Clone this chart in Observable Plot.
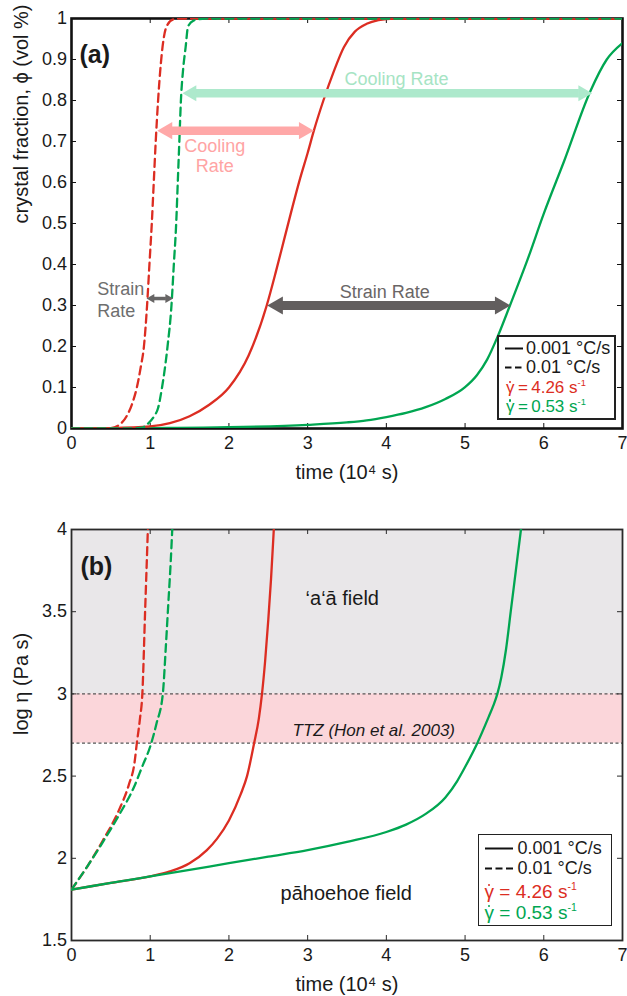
<!DOCTYPE html>
<html>
<head>
<meta charset="utf-8">
<script src="https://cdn.jsdelivr.net/npm/d3@7"></script>
<script src="https://cdn.jsdelivr.net/npm/@observablehq/plot@0.6"></script>
<style>
  body { margin: 0; background: #fff; }
  #chart { position: relative; width: 627px; height: 996px; font-family: "Liberation Sans", Arial, Helvetica, sans-serif; color: #1a1a1a; }
  #chart svg { display: block; }
  .legend { position: absolute; background: #fff; box-sizing: border-box; }
  .legend .row { position: absolute; white-space: nowrap; line-height: 1; }
  .legend sup { font-size: 0.55em; vertical-align: 0.75em; line-height: 0; }
  .gdot { position: relative; display: inline-block; }
  .gdot::after { content: ""; position: absolute; left: 50%; top: 0.1em; width: 2.4px; height: 2.4px;
    margin-left: -1.2px; border-radius: 50%; background: currentColor; }
</style>
</head>
<body>
<div id="chart">
  <div id="panelA"></div>
  <div id="panelB"></div>
</div>
<script>
// ---------- axes ----------
const timeTicks = [0, 1, 2, 3, 4, 5, 6, 7];
const phiTicks = [0, 0.1, 0.2, 0.3, 0.4, 0.5, 0.6, 0.7, 0.8, 0.9, 1];
const logEtaTicks = [1.5, 2, 2.5, 3, 3.5, 4];
const timeDomain = [0, 7];
const phiDomain = [0, 1];
const logEtaDomain = [1.5, 4];

// ---------- (a) crystal fraction φ vs time (10^4 s) ----------
// 0.001 °C/s, γ̇ = 4.26 s^-1
const phiSlowHigh = [[0,0],[0.5,0.001],[1,0.005],[1.25,0.013],[1.5,0.03],[1.75,0.058],[2,0.1],[2.25,0.178],[2.48,0.3],[2.6,0.385],[2.7,0.46],[2.8,0.535],[2.9,0.607],[3,0.672],[3.08,0.727],[3.2,0.8],[3.33,0.87],[3.46,0.93],[3.6,0.968],[3.75,0.987],[3.9,0.996],[4.1,1],[7,1]];
// 0.001 °C/s, γ̇ = 0.53 s^-1
const phiSlowLow = [[0,0],[1,0.001],[2,0.003],[3,0.009],[3.5,0.015],[3.75,0.02],[4,0.028],[4.25,0.038],[4.5,0.052],[4.75,0.072],[5,0.101],[5.15,0.13],[5.28,0.168],[5.42,0.227],[5.57,0.3],[5.79,0.41],[6,0.524],[6.26,0.653],[6.59,0.822],[6.8,0.9],[7,0.94]];
// 0.01 °C/s, γ̇ = 4.26 s^-1
const phiFastHigh = [[0,0],[0.5,0.001],[0.6,0.008],[0.7,0.03],[0.77,0.06],[0.83,0.1],[0.88,0.15],[0.92,0.2],[0.96,0.3],[0.99,0.4],[1.02,0.5],[1.045,0.6],[1.07,0.7],[1.1,0.8],[1.135,0.89],[1.17,0.95],[1.22,0.985],[1.3,0.998],[1.4,1],[7,1]];
// 0.01 °C/s, γ̇ = 0.53 s^-1
const phiFastLow = [[0,0],[0.8,0.0005],[0.9,0.002],[0.96,0.01],[1.05,0.03],[1.1,0.05],[1.15,0.1],[1.22,0.2],[1.27,0.3],[1.3,0.4],[1.33,0.5],[1.35,0.6],[1.37,0.7],[1.39,0.8],[1.42,0.88],[1.45,0.93],[1.48,0.98],[1.55,0.995],[1.7,1],[7,1]];

// double-headed arrows (time from → to, at crystal fraction)
const coolingArrowLow = [{x1: 1.41, x2: 6.615, y: 0.8175}];
const coolingArrowHigh = [{x1: 1.089, x2: 3.08, y: 0.7265}];
const strainArrowSlow = [{x1: 2.487, x2: 5.578, y: 0.30}];
const strainArrowFast = [{x1: 0.953, x2: 1.292, y: 0.317}];

const notesA = [
  {t: 4.13, v: 0.853, text: "Cooling Rate", kind: "coolLow"},
  {t: 1.82, v: 0.666, text: "Cooling\nRate", kind: "coolHigh"},
  {t: 3.98, v: 0.333, text: "Strain Rate", kind: "strainSlow"},
  {t: 0.326, v: 0.315, text: "Strain\nRate", kind: "strainFast"}
];

// ---------- (b) log viscosity vs time (10^4 s) ----------
const etaSlowHigh = [[0,1.81],[0.5,1.85],[1,1.89],[1.25,1.92],[1.5,1.97],[1.72,2.05],[1.85,2.12],[2,2.23],[2.15,2.39],[2.23,2.5],[2.32,2.7],[2.38,2.85],[2.42,3.0],[2.46,3.2],[2.5,3.45],[2.535,3.7],[2.57,4.0],[2.61,4.35]];
const etaSlowLow = [[0,1.81],[0.5,1.85],[1,1.89],[1.5,1.93],[2,1.97],[2.5,2.01],[3,2.05],[3.5,2.1],[4,2.16],[4.25,2.205],[4.5,2.27],[4.75,2.37],[4.9,2.47],[5,2.555],[5.155,2.7],[5.3,2.86],[5.36,2.93],[5.41,3.0],[5.46,3.1],[5.52,3.27],[5.58,3.5],[5.645,3.75],[5.71,4.0],[5.78,4.28]];
const etaFastHigh = [[0,1.81],[0.2,1.95],[0.4,2.11],[0.6,2.29],[0.73,2.45],[0.8,2.58],[0.83,2.7],[0.87,2.85],[0.9,3.0],[0.935,3.5],[0.97,4.0],[0.99,4.3]];
const etaFastLow = [[0,1.81],[0.2,1.95],[0.4,2.1],[0.6,2.26],[0.8,2.44],[0.9,2.56],[1.0,2.68],[1.08,2.82],[1.16,3.0],[1.2,3.3],[1.23,3.55],[1.26,3.8],[1.28,4.0],[1.3,4.2]];

const aaField = [{lo: 3, hi: 4}];
const ttzBand = [{lo: 2.7, hi: 3}];
const ttzBounds = [2.7, 3];
const notesB = [
  {t: 3.44, v: 3.58, text: "\u2018a\u2018\u0101 field", kind: "field"},
  {t: 3.84, v: 2.78, text: "TTZ (Hon et al. 2003)", kind: "ttz"},
  {t: 3.49, v: 1.785, text: "p\u0101hoehoe field", kind: "field"}
];

// ---------- legend ----------
const coolingRates = ["0.001 \u00b0C/s", "0.01 \u00b0C/s"];
const strainRates = ["4.26", "0.53"];

// ---------- styling ----------
const FONT = "'Liberation Sans', Arial, Helvetica, sans-serif";
const RED = "#dc2d22";
const GREEN = "#00a651";
const W = 627, ML = 71, MR = 5;
const innerW = W - ML - MR;
const fmt = d3.format("~g");

function doubleArrow(data, {color, shaft, half}) {
  const r = Math.sqrt(3 * Math.sqrt(3) * half * half / Math.PI);
  const len = 3 * half;
  return [
    Plot.ruleY(data, {x1: "x1", x2: "x2", y: "y", stroke: color, strokeWidth: shaft, insetLeft: len - 1, insetRight: len - 1}),
    Plot.dot(data, {x: "x1", y: "y", symbol: "triangle", r, rotate: -90, fill: color, dx: 2 * half}),
    Plot.dot(data, {x: "x2", y: "y", symbol: "triangle", r, rotate: 90, fill: color, dx: -2 * half})
  ];
}

function innerTicks(xt, yt, ih, color) {
  return [
    Plot.tickX(xt, {x: d => d, insetTop: ih - 5, stroke: color}),
    Plot.tickX(xt, {x: d => d, insetBottom: ih - 5, stroke: color}),
    Plot.tickY(yt, {y: d => d, insetRight: innerW - 5, stroke: color}),
    Plot.tickY(yt, {y: d => d, insetLeft: innerW - 5, stroke: color})
  ];
}

function curve(points, color, dashed) {
  return Plot.line(points, {x: d => d[0], y: d => d[1], stroke: color, strokeWidth: 2.3,
    strokeDasharray: dashed ? "8,5" : null, curve: "monotone-x", clip: true});
}

function axisTitles(xLabel, yLabel) {
  return [
    Plot.text([xLabel], {frameAnchor: "bottom", dy: 50, fontSize: 20, text: d => d}),
    Plot.text([yLabel], {frameAnchor: "left", dx: -49.5, rotate: -90, fontSize: 20, text: d => d})
  ];
}

// ---------- panel (a) ----------
const HA = 485, MTA = 18, MBA = 57;
const plotA = Plot.plot({
  width: W, height: HA, marginLeft: ML, marginRight: MR, marginTop: MTA, marginBottom: MBA,
  style: {fontFamily: FONT, fontSize: "18px", background: "#fff", color: "#1a1a1a", overflow: "visible"},
  x: {domain: timeDomain},
  y: {domain: phiDomain},
  marks: [
    Plot.frame({stroke: "#111", strokeWidth: 2.6}),
    ...innerTicks(timeTicks, phiTicks, HA - MTA - MBA, "#111"),
    Plot.axisX({ticks: timeTicks, tickSize: 0, tickPadding: 8, tickFormat: fmt, label: null}),
    Plot.axisY({ticks: phiTicks, tickSize: 0, tickPadding: 4.5, tickFormat: fmt, label: null}),
    ...axisTitles("time (10\u2074 s)", "crystal fraction, \u03d5 (vol %)"),
    curve(phiSlowLow, GREEN, false),
    curve(phiSlowHigh, RED, false),
    curve(phiFastHigh, RED, true),
    curve(phiFastLow, GREEN, true),
    ...doubleArrow(coolingArrowLow, {color: "#ade9cc", shaft: 8.5, half: 4.6}),
    ...doubleArrow(coolingArrowHigh, {color: "#ffa8a8", shaft: 8.5, half: 5}),
    ...doubleArrow(strainArrowSlow, {color: "#625e5e", shaft: 9, half: 5.2}),
    ...doubleArrow(strainArrowFast, {color: "#676565", shaft: 3.5, half: 2.6}),
    Plot.text(notesA.filter(d => d.kind === "coolLow"), {x: "t", y: "v", text: "text", fill: "#a6e4c4", fontSize: 18}),
    Plot.text(notesA.filter(d => d.kind === "coolHigh"), {x: "t", y: "v", text: "text", fill: "#ffa4a4", fontSize: 18, lineHeight: 1.12}),
    Plot.text(notesA.filter(d => d.kind === "strainSlow"), {x: "t", y: "v", text: "text", fill: "#6a6666", fontSize: 18}),
    Plot.text(notesA.filter(d => d.kind === "strainFast"), {x: "t", y: "v", text: "text", fill: "#6e6e6e", fontSize: 18, lineHeight: 1.2, textAnchor: "start"}),
    Plot.text(["(a)"], {frameAnchor: "top-left", dx: 8, dy: 27, text: d => d, fontSize: 25, fontWeight: "bold", textAnchor: "start"})
  ]
});
document.getElementById("panelA").append(plotA);

// ---------- panel (b) ----------
const HB = 511, MTB = 44, MBB = 56;
const plotB = Plot.plot({
  width: W, height: HB, marginLeft: ML, marginRight: MR, marginTop: MTB, marginBottom: MBB,
  style: {fontFamily: FONT, fontSize: "18px", background: "#fff", color: "#1a1a1a", overflow: "visible"},
  x: {domain: timeDomain},
  y: {domain: logEtaDomain},
  marks: [
    Plot.rect(aaField, {x1: timeDomain[0], x2: timeDomain[1], y1: "lo", y2: "hi", fill: "#e9e7e9"}),
    Plot.rect(ttzBand, {x1: timeDomain[0], x2: timeDomain[1], y1: "lo", y2: "hi", fill: "#fbd6da"}),
    Plot.ruleY(ttzBounds, {stroke: "#555", strokeWidth: 1.2, strokeDasharray: "3,2.5"}),
    Plot.frame({stroke: "#2a2a2a", strokeWidth: 1.8}),
    ...innerTicks(timeTicks, logEtaTicks, HB - MTB - MBB, "#2a2a2a"),
    Plot.axisX({ticks: timeTicks, tickSize: 0, tickPadding: 8, tickFormat: fmt, label: null}),
    Plot.axisY({ticks: logEtaTicks, tickSize: 0, tickPadding: 4.5, tickFormat: fmt, label: null}),
    ...axisTitles("time (10\u2074 s)", "log \u03b7 (Pa s)"),
    curve(etaFastHigh, RED, true),
    curve(etaFastLow, GREEN, true),
    curve(etaSlowHigh, RED, false),
    curve(etaSlowLow, GREEN, false),
    Plot.text(notesB.filter(d => d.kind === "field"), {x: "t", y: "v", text: "text", fontSize: 20}),
    Plot.text(notesB.filter(d => d.kind === "ttz"), {x: "t", y: "v", text: "text", fontSize: 17, fontStyle: "italic"}),
    Plot.text(["(b)"], {frameAnchor: "top-left", dx: 9, dy: 27.5, text: d => d, fontSize: 25, fontWeight: "bold", textAnchor: "start"})
  ]
});
document.getElementById("panelB").append(plotB);

// ---------- legends ----------
function legend(box) {
  const el = document.createElement("div");
  el.className = "legend";
  Object.assign(el.style, {left: box.left + "px", top: box.top + "px", width: box.width + "px",
    height: box.height + "px", border: `${box.border}px solid #222`});
  const dashes = [null, box.dash];
  coolingRates.forEach((label, i) => {
    const row = document.createElement("div");
    row.className = "row";
    Object.assign(row.style, {left: box.lineX + "px", top: (box.rows[i] - 9) + "px", fontSize: "18px", height: "18px"});
    const svg = d3.create("svg").attr("width", box.lineLen).attr("height", 18)
      .style("display", "inline-block").style("vertical-align", "top").style("margin-right", box.gap + "px");
    svg.append("line").attr("x1", 0).attr("x2", box.lineLen).attr("y1", 9.5).attr("y2", 9.5)
      .attr("stroke", "#111").attr("stroke-width", 2).attr("stroke-dasharray", dashes[i]);
    row.append(svg.node());
    const span = document.createElement("span");
    span.textContent = label;
    span.style.verticalAlign = "top";
    span.style.lineHeight = "19px";
    row.append(span);
    el.append(row);
  });
  strainRates.forEach((rate, i) => {
    const row = document.createElement("div");
    row.className = "row";
    Object.assign(row.style, {left: box.gammaX + "px", top: (box.rows[i + 2] - 9) + "px",
      fontSize: box.gammaSize + "px", color: [RED, GREEN][i]});
    row.innerHTML = `<span class="gdot">\u03b3</span>${box.sp}=${box.sp}${rate} s<sup>-1</sup>`;
    el.append(row);
  });
  document.getElementById("chart").append(el);
}

legend({left: 497, top: 335, width: 119, height: 85, border: 2, rows: [11, 29.7, 51.3, 69.7],
  lineX: 6, lineLen: 18, gap: 3, dash: "6.5,3.5", gammaX: 7, gammaSize: 17, sp: "\u2009"});
legend({left: 478, top: 834, width: 134, height: 92, border: 1.5, rows: [12.8, 32.8, 56.2, 77.2],
  lineX: 5.5, lineLen: 28, gap: 5, dash: "7,3.5", gammaX: 5.5, gammaSize: 19, sp: " "});
</script>
</body>
</html>
